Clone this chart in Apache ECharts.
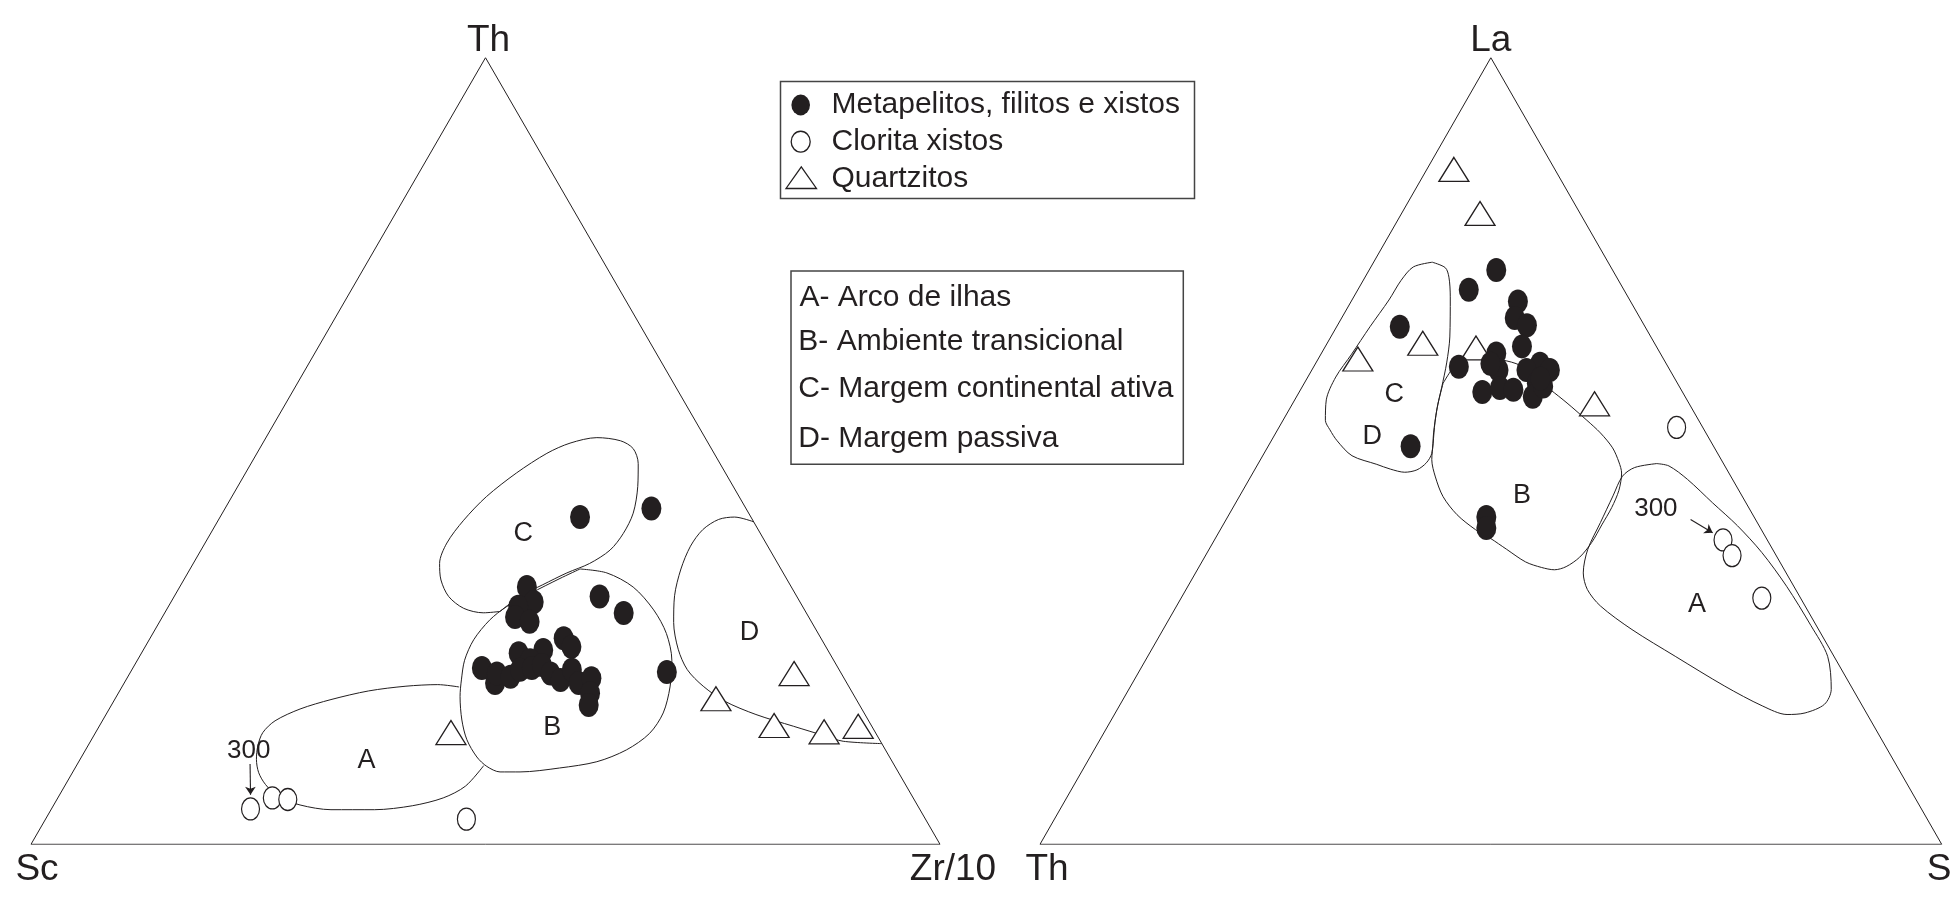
<!DOCTYPE html>
<html>
<head>
<meta charset="utf-8">
<script src="https://cdn.jsdelivr.net/npm/echarts@6/dist/echarts.min.js"></script>
<style>
  html, body { margin: 0; padding: 0; background: #fff; }
  #chart { width: 1952px; height: 899px; }
</style>
</head>
<body>
<div id="chart"></div>
<script>
// All compositions are ternary percentages ordered [top, bottom-left, bottom-right].

// Apex names of the two diagrams
const leftApices = ['Th', 'Sc', 'Zr/10'];
const rightApices = ['La', 'Th', 'Sc'];

// Sample groups and tectonic-setting fields
const sampleGroups = ['Metapelitos, filitos e xistos', 'Clorita xistos', 'Quartzitos'];
const fieldCaptions = ['A- Arco de ilhas', 'B- Ambiente transicional', 'C- Margem continental ativa', 'D- Margem passiva'];
const fieldLetters = ['A', 'B', 'C', 'D'];
const sampleTag = '300';

// ---------- Th - Sc - Zr/10 ----------
const thScZrMetapelitos = [
  [41.6, 18.8, 39.6], [42.7, 10.4, 46.9], [32.7, 29.1, 38.2], [30.8, 29.3, 39.9],
  [30.2, 31.3, 38.5], [28.9, 32.3, 38.8], [28.3, 31.0, 40.7], [31.5, 21.7, 46.8],
  [29.4, 20.1, 50.5], [26.2, 28.3, 45.5], [25.1, 28.0, 46.9], [24.3, 34.2, 41.5],
  [24.7, 31.3, 44.0], [23.4, 33.4, 43.2], [22.4, 39.2, 38.4], [20.5, 38.7, 40.8],
  [21.7, 37.9, 40.4], [21.3, 36.6, 42.1], [22.2, 35.1, 42.7], [22.4, 33.7, 43.9],
  [22.8, 32.4, 44.8], [21.7, 32.0, 46.3], [20.9, 31.3, 47.8], [22.2, 29.4, 48.4],
  [20.5, 29.5, 50.0], [21.1, 27.8, 51.1], [19.2, 28.9, 51.9], [17.7, 29.8, 52.5],
  [21.9, 19.1, 59.0]
];
const thScZrClorita = [[4.5, 73.6, 21.9], [5.9, 70.5, 23.6], [5.7, 68.9, 25.4], [3.2, 50.5, 46.3]];
const thScZrQuartzitos = [
  [14.2, 46.7, 39.1], [18.5, 15.4, 66.1], [21.7, 5.2, 73.1],
  [15.1, 10.7, 74.2], [14.3, 5.6, 80.1], [15.0, 1.5, 83.5]
];
// Field outlines (A and D end on other boundaries)
const thScZrFieldA = [
  [20.0, 42.9, 37.1], [20.3, 45.1, 34.6], [20.1, 48.7, 31.2], [19.5, 53.1, 27.4], [18.4, 57.8, 23.8],
  [17.2, 61.8, 21.0], [15.7, 65.3, 19.0], [14.2, 67.4, 18.4], [12.5, 68.8, 18.7], [10.8, 69.8, 19.4],
  [9.1, 70.4, 20.5], [7.6, 70.4, 22.0], [6.1, 69.8, 24.1], [5.0, 67.9, 27.1], [4.4, 64.8, 30.8],
  [4.4, 60.0, 35.6], [4.9, 55.6, 39.5], [5.9, 51.7, 42.4], [7.4, 48.5, 44.1], [10.0, 45.2, 44.8]
];
const thScZrFieldB = [
  [35.0, 22.1, 42.9], [34.5, 19.4, 46.1], [32.7, 17.4, 49.9], [29.8, 16.6, 53.6], [26.8, 16.7, 56.5],
  [23.4, 17.8, 58.8], [20.0, 19.7, 60.3], [16.7, 22.1, 61.2], [14.1, 24.9, 61.0], [12.0, 28.5, 59.5],
  [10.5, 32.5, 57.0], [9.7, 37.0, 53.3], [9.2, 41.6, 49.2], [9.2, 43.8, 47.0], [9.9, 44.9, 45.2],
  [11.1, 45.4, 43.5], [13.3, 45.4, 41.3], [15.8, 44.7, 39.5], [18.8, 43.4, 37.8], [20.9, 42.2, 36.9],
  [23.4, 40.6, 36.0], [26.0, 38.3, 35.7], [28.5, 35.3, 36.2], [30.2, 32.6, 37.2], [31.9, 29.1, 39.0],
  [33.8, 24.9, 41.3]
];
const thScZrFieldC = [
  [29.6, 33.6, 36.8], [29.4, 35.5, 35.0], [30.0, 37.4, 32.6], [31.5, 38.3, 30.2], [33.6, 38.1, 28.3],
  [35.7, 37.2, 27.1], [38.3, 35.1, 26.6], [41.2, 31.8, 27.0], [44.2, 27.8, 28.0], [47.2, 23.0, 29.8],
  [49.7, 18.4, 31.9], [51.0, 15.2, 33.8], [51.7, 11.9, 36.4], [51.3, 9.5, 39.2], [50.3, 8.6, 41.1],
  [48.4, 9.0, 42.6], [45.5, 10.5, 44.0], [42.1, 12.7, 45.2], [39.5, 15.1, 45.4], [37.4, 17.6, 45.0],
  [35.7, 20.7, 43.6], [34.5, 23.8, 41.7], [33.0, 27.2, 39.8], [31.5, 30.5, 38.0]
];
const thScZrFieldD = [
  [41.0, 0.0, 59.0], [41.6, 1.8, 56.6], [41.3, 3.7, 55.0], [40.0, 6.1, 53.9], [37.9, 8.5, 53.6],
  [35.0, 11.0, 54.0], [31.6, 13.4, 55.0], [28.2, 15.2, 56.6], [24.8, 16.4, 58.8], [22.2, 16.7, 61.1],
  [20.1, 16.0, 63.9], [18.2, 14.6, 67.2], [16.5, 12.0, 71.5], [15.0, 8.6, 76.4], [13.8, 5.8, 80.4],
  [13.1, 4.1, 82.8], [12.8, 0.0, 87.2]
];
const thScZrLetterPos = [[10.6, 57.8, 31.6], [14.9, 35.2, 49.9], [39.5, 26.1, 34.4], [26.9, 7.5, 65.6]];
const thScZrTagPos = [11.9, 70.1, 18.0];
const thScZrTagArrow = [[10.2, 70.8, 19.0], [6.3, 72.7, 21.0]];

// ---------- La - Th - Sc ----------
const laThScMetapelitos = [
  [73.0, 12.9, 14.1], [70.5, 17.2, 12.3], [69.0, 12.5, 18.5], [66.9, 13.9, 19.2],
  [66.0, 13.0, 21.0], [65.8, 27.2, 7.0], [60.7, 23.2, 16.1], [62.4, 18.2, 19.4],
  [63.3, 14.9, 21.8], [61.1, 14.0, 24.9], [60.3, 13.3, 26.4], [60.3, 19.0, 20.7],
  [60.3, 15.9, 23.8], [58.6, 15.6, 25.8], [57.5, 22.2, 20.3], [58.0, 20.0, 22.0],
  [57.8, 18.6, 23.6], [56.9, 16.9, 26.2], [58.2, 15.1, 26.7], [61.1, 19.5, 19.4],
  [59.2, 14.9, 25.9], [50.6, 33.6, 15.8], [41.6, 29.7, 28.7], [40.2, 30.4, 29.4]
];
const laThScClorita = [[53.0, 2.9, 44.1], [38.7, 4.9, 56.4], [36.7, 4.9, 58.4], [31.3, 4.3, 64.4]];
const laThScQuartzitos = [
  [85.8, 11.2, 3.0], [80.2, 11.1, 8.7], [63.7, 25.7, 10.6],
  [61.7, 33.9, 4.4], [63.1, 20.1, 16.8], [56.0, 10.5, 33.5]
];
const laThScFieldA = [
  [48.4, 7.4, 44.2], [48.1, 6.2, 45.7], [46.4, 5.0, 48.6], [43.4, 3.7, 52.9], [40.5, 2.4, 57.1],
  [37.1, 1.4, 61.5], [32.8, 0.8, 66.4], [27.8, 0.6, 71.6], [23.9, 0.7, 75.4], [19.7, 2.4, 77.9],
  [17.8, 4.1, 78.1], [16.7, 6.8, 76.5], [16.5, 8.9, 74.6], [17.6, 11.1, 71.3], [20.1, 14.0, 65.9],
  [23.9, 17.6, 58.5], [27.3, 20.7, 52.0], [30.3, 22.7, 47.0], [32.4, 23.1, 44.5], [34.5, 22.5, 43.0],
  [37.5, 20.5, 42.0], [40.9, 17.4, 41.7], [44.3, 14.3, 41.4], [46.8, 12.0, 41.2], [47.9, 10.1, 42.0]
];
const laThScFieldB = [
  [58.6, 26.0, 15.4], [60.3, 24.2, 15.5], [61.6, 22.3, 16.1], [61.8, 20.0, 18.2], [60.9, 16.3, 22.8],
  [57.8, 14.5, 27.7], [56.1, 13.5, 30.4], [53.9, 12.4, 33.7], [52.3, 11.7, 36.0], [50.4, 11.3, 38.3],
  [48.6, 11.5, 39.9], [47.2, 11.9, 40.9], [45.0, 13.3, 41.7], [42.8, 15.2, 42.0], [40.6, 17.4, 42.0],
  [38.4, 19.6, 42.0], [36.5, 21.9, 41.6], [35.3, 24.0, 40.7], [34.9, 25.5, 39.6], [35.2, 26.8, 38.0],
  [35.9, 28.2, 35.9], [37.5, 29.5, 33.0], [38.9, 30.6, 30.5], [40.0, 31.7, 28.3], [41.9, 32.8, 25.3],
  [44.2, 33.2, 22.6], [46.7, 32.8, 20.5], [48.9, 32.1, 19.0], [51.0, 30.9, 18.1], [53.6, 29.4, 17.0],
  [56.1, 27.8, 16.1]
];
const laThScFieldCD = [
  [74.0, 19.5, 6.5], [73.3, 18.4, 8.3], [72.1, 18.6, 9.3], [69.6, 19.7, 10.7], [64.5, 22.3, 13.2],
  [61.2, 24.3, 14.5], [58.1, 26.4, 15.5], [55.2, 28.4, 16.4], [52.3, 30.2, 17.5], [49.7, 31.7, 18.6],
  [48.5, 32.9, 18.6], [47.6, 34.4, 18.0], [47.3, 35.9, 16.8], [47.7, 37.3, 15.0], [48.3, 38.5, 13.2],
  [49.4, 40.7, 9.9], [51.3, 41.4, 7.3], [52.7, 41.5, 5.8], [53.9, 41.4, 4.7], [56.5, 40.0, 3.5],
  [59.4, 37.5, 3.1], [62.3, 34.3, 3.4], [65.8, 30.5, 3.7], [69.2, 26.7, 4.1], [71.7, 24.1, 4.2],
  [73.4, 21.9, 4.7]
];
const laThScLetterPos = [[30.5, 11.9, 57.6], [44.3, 24.4, 31.3], [57.2, 32.1, 10.7], [51.9, 37.2, 10.9]];
const laThScTagPos = [42.6, 10.4, 47.0];
const laThScTagArrow = [[41.3, 7.2, 51.5], [39.6, 5.6, 54.8]];

// ---------- drawing ----------
const INK = '#231f20';
const FONT = 'Liberation Sans';

// ternary [top, left, right] -> unit-frame cartesian [x, y]
function tern(p) {
  const s = p[0] + p[1] + p[2];
  const t = p[0] / s, r = p[2] / s;
  return [r + t / 2, t];
}
function closeLoop(a) { return a.concat([a[0]]); }

function outline(idx, pts, closed, smooth) {
  const d = closed ? closeLoop(pts) : pts;
  return {
    type: 'line', xAxisIndex: idx, yAxisIndex: idx, silent: true,
    data: d.map(tern), symbol: 'none', smooth: smooth, z: 1,
    lineStyle: { color: INK, width: 1, opacity: 1 }
  };
}

function samples(idx, name, pts, kind) {
  const base = { type: 'scatter', name: name, xAxisIndex: idx, yAxisIndex: idx, silent: true, data: pts.map(tern) };
  if (kind === 'filled') {
    return Object.assign(base, { symbol: 'circle', symbolSize: [20, 24], z: 5,
      itemStyle: { color: INK, opacity: 1 } });
  }
  if (kind === 'open') {
    return Object.assign(base, { symbol: 'circle', symbolSize: [18, 22], z: 4,
      itemStyle: { color: '#fff', borderColor: INK, borderWidth: 1.3, opacity: 1 } });
  }
  return Object.assign(base, { symbol: 'triangle', symbolSize: [30, 24], z: 3,
    itemStyle: { color: '#fff', borderColor: INK, borderWidth: 1.3, opacity: 1 } });
}

function textLayer(idx, items, size) {
  return {
    type: 'scatter', xAxisIndex: idx, yAxisIndex: idx, silent: true, z: 6,
    symbol: 'circle', symbolSize: 1, itemStyle: { color: 'rgba(0,0,0,0)', opacity: 1 },
    data: items.map(function (it) {
      return {
        name: it.text, value: tern(it.pos),
        label: Object.assign({
          show: true, formatter: '{b}', position: 'inside', fontFamily: FONT,
          fontSize: size, color: INK, opacity: 1, align: 'center', verticalAlign: 'middle'
        }, it.label || {})
      };
    })
  };
}

function tagArrow(idx, seg) {
  return {
    type: 'lines', coordinateSystem: 'cartesian2d', xAxisIndex: idx, yAxisIndex: idx,
    silent: true, z: 6, symbol: ['none', 'arrow'], symbolSize: [0, 8],
    lineStyle: { color: INK, width: 1.1, opacity: 1 },
    data: [{ coords: seg.map(tern) }]
  };
}

function diagram(idx, cfg) {
  const list = [];
  list.push(outline(idx, [[100, 0, 0], [0, 100, 0], [0, 0, 100]], true, false));
  cfg.fields.forEach(function (f) { list.push(outline(idx, f.pts, f.closed, 0.3)); });
  list.push(samples(idx, sampleGroups[2], cfg.quartzitos, 'triangle'));
  list.push(samples(idx, sampleGroups[1], cfg.clorita, 'open'));
  list.push(samples(idx, sampleGroups[0], cfg.metapelitos, 'filled'));
  list.push(textLayer(idx, fieldLetters.map(function (l, i) { return { text: l, pos: cfg.letters[i] }; }), 27));
  list.push(textLayer(idx, [{ text: sampleTag, pos: cfg.tag }], 26));
  list.push(tagArrow(idx, cfg.arrow));
  list.push(textLayer(idx, [
    { text: cfg.apices[0], pos: [100, 0, 0], label: { offset: cfg.apexOffsets[0] } },
    { text: cfg.apices[1], pos: [0, 100, 0], label: { offset: cfg.apexOffsets[1], align: cfg.apexAlign[1] } },
    { text: cfg.apices[2], pos: [0, 0, 100], label: { offset: cfg.apexOffsets[2], align: cfg.apexAlign[2] } }
  ], 37));
  return list;
}

const series = [].concat(
  diagram(0, {
    apices: leftApices, apexOffsets: [[3, -17], [6, 25], [13, 25]], apexAlign: [null, 'center', 'center'],
    fields: [
      { pts: thScZrFieldA, closed: false }, { pts: thScZrFieldB, closed: true },
      { pts: thScZrFieldC, closed: true }, { pts: thScZrFieldD, closed: false }
    ],
    metapelitos: thScZrMetapelitos, clorita: thScZrClorita, quartzitos: thScZrQuartzitos,
    letters: thScZrLetterPos, tag: thScZrTagPos, arrow: thScZrTagArrow
  }),
  diagram(1, {
    apices: rightApices, apexOffsets: [[0, -17], [7, 25], [-15, 25]], apexAlign: [null, 'center', 'left'],
    fields: [
      { pts: laThScFieldA, closed: true }, { pts: laThScFieldB, closed: true },
      { pts: laThScFieldCD, closed: true }
    ],
    metapelitos: laThScMetapelitos, clorita: laThScClorita, quartzitos: laThScQuartzitos,
    letters: laThScLetterPos, tag: laThScTagPos, arrow: laThScTagArrow
  })
);

// legend boxes
function legendText(x, y, text) {
  return {
    type: 'text', x: x, y: y, silent: true,
    style: { text: text, fontSize: 30, fontFamily: FONT, fill: INK,
      textVerticalAlign: 'middle', verticalAlign: 'middle', textAlign: 'left', align: 'left' }
  };
}
const graphic = [
  { type: 'rect', silent: true, shape: { x: 780.5, y: 81.5, width: 414, height: 117 },
    style: { fill: 'none', stroke: '#444', lineWidth: 1.5 } },
  { type: 'circle', silent: true, x: 800.7, y: 105, scaleY: 1.12, shape: { cx: 0, cy: 0, r: 9.3 },
    style: { fill: INK } },
  legendText(831.5, 105, sampleGroups[0]),
  { type: 'circle', silent: true, x: 800.7, y: 141.7, scaleY: 1.1, shape: { cx: 0, cy: 0, r: 9.5 },
    style: { fill: '#fff', stroke: INK, lineWidth: 1.3 } },
  legendText(831.5, 141.7, sampleGroups[1]),
  { type: 'polygon', silent: true, shape: { points: [[786, 188.5], [816.5, 188.5], [801.3, 166.8]] },
    style: { fill: '#fff', stroke: INK, lineWidth: 1.3 } },
  legendText(831.5, 178.3, sampleGroups[2]),
  { type: 'rect', silent: true, shape: { x: 791, y: 271, width: 392.3, height: 193.3 },
    style: { fill: 'none', stroke: '#444', lineWidth: 1.5 } },
  legendText(799.5, 297.5, fieldCaptions[0]),
  legendText(798.3, 341.7, fieldCaptions[1]),
  legendText(798.3, 388.3, fieldCaptions[2]),
  legendText(798.3, 438.3, fieldCaptions[3])
];

const chart = echarts.init(document.getElementById('chart'), null, { renderer: 'canvas' });
chart.setOption({
  animation: false,
  backgroundColor: '#fff',
  grid: [
    { left: 31, top: 57.7, width: 909, height: 786.6, show: false },
    { left: 1040, top: 57.7, width: 901.7, height: 786.6, show: false }
  ],
  xAxis: [
    { gridIndex: 0, type: 'value', min: 0, max: 1, show: false },
    { gridIndex: 1, type: 'value', min: 0, max: 1, show: false }
  ],
  yAxis: [
    { gridIndex: 0, type: 'value', min: 0, max: 1, show: false },
    { gridIndex: 1, type: 'value', min: 0, max: 1, show: false }
  ],
  series: series,
  graphic: graphic
});
</script>
</body>
</html>
